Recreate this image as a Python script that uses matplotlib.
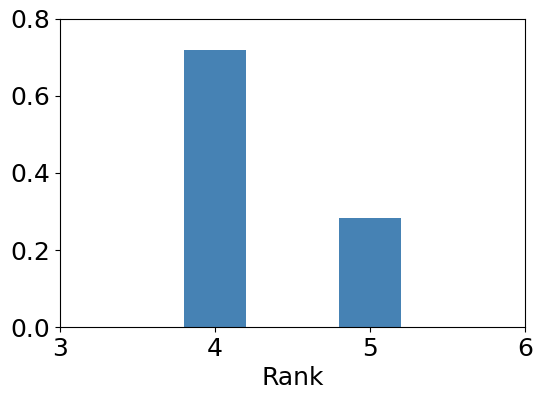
import matplotlib.pyplot as plt

ranks = [4, 5]
share = [0.72, 0.283]

fig, ax = plt.subplots(figsize=(5.42, 4), dpi=100)
ax.bar(ranks, share, width=0.4, color='steelblue')
ax.set_xlim(3, 6)
ax.set_ylim(0, 0.8)
ax.set_xticks([3, 4, 5, 6])
ax.set_yticks([0.0, 0.2, 0.4, 0.6, 0.8])
ax.set_xlabel('Rank', fontsize=18)
ax.tick_params(labelsize=18)
fig.subplots_adjust(left=0.111, right=0.969, top=0.953, bottom=0.182)
plt.savefig('out.png')
